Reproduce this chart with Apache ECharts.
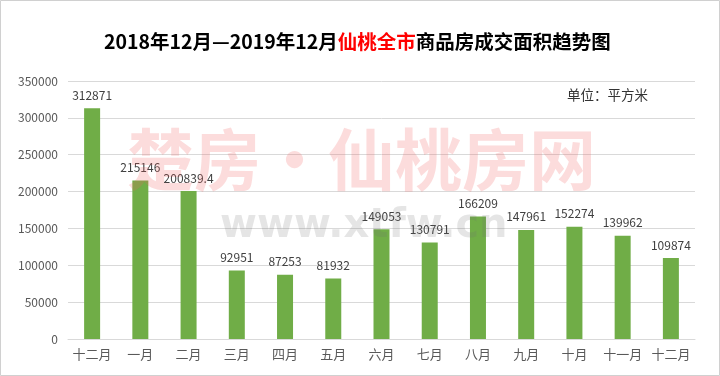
<!DOCTYPE html>
<html>
<head>
<meta charset="utf-8">
<script src="https://cdn.jsdelivr.net/npm/echarts@6/dist/echarts.min.js"></script>
<style>
  html, body { margin: 0; padding: 0; background: #fff; }
  #main { width: 720px; height: 376px; }
</style>
</head>
<body>
<div id="main"></div>
<script>
// 月份
var months = ['十二月', '一月', '二月', '三月', '四月', '五月', '六月', '七月', '八月', '九月', '十月', '十一月', '十二月'];
// 成交面积（平方米）
var areas = [312871, 215146, 200839.4, 92951, 87253, 81932, 149053, 130791, 166209, 147961, 152274, 139962, 109874];
var yTicks = [0, 50000, 100000, 150000, 200000, 250000, 300000, 350000];

var fontCN = '"Noto Sans CJK SC", "Noto Sans", sans-serif';
var myChart = echarts.init(document.getElementById('main'));
myChart.setOption({
    backgroundColor: '#fff',
    animation: false,
    textStyle: { fontFamily: fontCN },
    title: {
        text: '{b|2018年12月—2019年12月}{r|仙桃全市}{b|商品房成交面积趋势图}',
        left: 99,
        top: 27,
        textStyle: {
            rich: {
                b: { fontSize: 19.5, fontWeight: 'bold', color: '#000', fontFamily: fontCN },
                r: { fontSize: 19.5, fontWeight: 'bold', color: '#ff0000', fontFamily: fontCN }
            }
        }
    },
    grid: {
        left: 68,
        right: 25,
        top: 81,
        bottom: 37,
        containLabel: false
    },
    xAxis: {
        type: 'category',
        data: months,
        axisTick: { show: false },
        axisLine: { lineStyle: { color: '#d9d9d9' } },
        axisLabel: {
            color: '#595959',
            fontSize: 13,
            interval: 0,
            margin: 9
        }
    },
    yAxis: {
        type: 'value',
        min: yTicks[0],
        max: yTicks[yTicks.length - 1],
        interval: 50000,
        axisLine: { show: false },
        axisTick: { show: false },
        axisLabel: {
            color: '#595959',
            fontSize: 12,
            margin: 10,
            formatter: function (v) { return String(v); }
        },
        splitLine: { lineStyle: { color: '#d9d9d9' } }
    },
    series: [{
        type: 'bar',
        data: areas,
        barWidth: 16,
        itemStyle: { color: '#70ad47' },
        label: {
            show: true,
            position: 'top',
            distance: 7,
            color: '#404040',
            fontSize: 12
        },
        z: 2
    }],
    graphic: [
        {
            type: 'rect',
            shape: { x: 0.5, y: 0.5, width: 719, height: 375 },
            style: { fill: 'none', stroke: '#d0d0d0', lineWidth: 1 },
            silent: true
        },
        {
            type: 'text',
            left: 567,
            top: 88,
            style: { text: '单位：平方米', fill: '#333', font: '13.5px ' + fontCN }
        },
        {
            type: 'text',
            left: 127,
            top: 126,
            z: 10,
            style: { text: '楚房·仙桃房网', fill: 'rgba(240,95,95,0.22)', font: 'bold 67px ' + fontCN },
            silent: true
        },
        {
            type: 'text',
            left: 220,
            top: 207,
            z: 10,
            style: { text: 'www.xtfw.cn', fill: 'rgba(110,110,110,0.18)', font: 'bold 40px "DejaVu Sans", sans-serif' },
            silent: true
        }
    ]
});
</script>
</body>
</html>
